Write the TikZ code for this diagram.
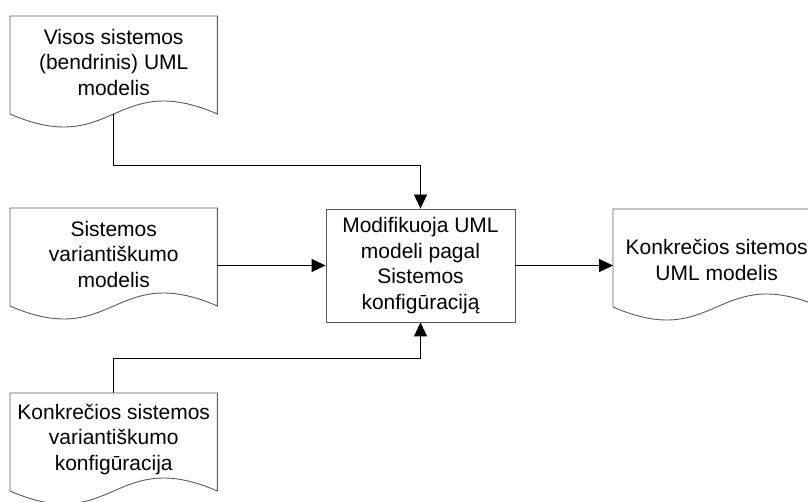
\documentclass[tikz,border=0pt]{standalone}
\usepackage{fontspec}
\setmainfont{Liberation Sans}
\usetikzlibrary{arrows.meta,calc}
\tikzset{>={Triangle[length=14pt,width=13pt]}}
\definecolor{edgegray}{RGB}{90,90,90}
\tikzset{
  docbox/.style={minimum width=207pt, minimum height=92pt, inner sep=0pt, align=center, anchor=north west,
    font=\fontsize{21}{25.5}\selectfont},
  procbox/.style={draw=edgegray, line width=0.9pt, minimum width=189pt, minimum height=113pt, inner sep=0pt,
    align=center, font=\fontsize{21}{25.5}\selectfont},
  shapeline/.style={draw=edgegray, line width=0.9pt},
  conn/.style={->, line width=0.9pt, black}
}
\newcommand{\docoutline}[1]{%
  \draw[shapeline] ($(#1.north west)+(0,-98)$) -- (#1.north west) -- (#1.north east) -- ($(#1.north east)+(0,-98)$)
    .. controls ($(#1.north)+(0,-53)$) and ($(#1.north)+(0,-143)$) .. ($(#1.north west)+(0,-98)$);}

\begin{document}
\begin{tikzpicture}[x=1pt,y=1pt]
\useasboundingbox (0,0) rectangle (808,-502);
\clip (0,0) rectangle (808,-502);
\node[docbox] (visos) at (10,-16) {Visos sistemos\\(bendrinis) UML\\modelis};
\node[docbox] (variant) at (10,-208) {Sistemos\\variantiškumo\\modelis};
\node[docbox] (konfig) at (10,-393) {Konkrečios sistemos\\variantiškumo\\konfigūracija};
\node[docbox, minimum height=102pt] (konkr) at (613,-209) {Konkrečios sitemos\\UML modelis};
\node[procbox] (modif) at (420.5,-265.5) {Modifikuoja UML\\modeli pagal\\Sistemos\\konfigūraciją};
\docoutline{visos}
\docoutline{variant}
\docoutline{konfig}
\docoutline{konkr}
\coordinate (visosbot) at ($(visos.north)+(0,-98)$);
\draw[conn] (visosbot) |- ($(modif.north)+(0,43)$) -- (modif.north);
\draw[conn] (modif.west -| variant.east) -- (modif.west);
\draw[conn] (konfig.north) |- ($(modif.south)+(0,-36)$) -- (modif.south);
\draw[conn] (modif.east) -- (modif.east -| konkr.west);
\end{tikzpicture}
\end{document}
